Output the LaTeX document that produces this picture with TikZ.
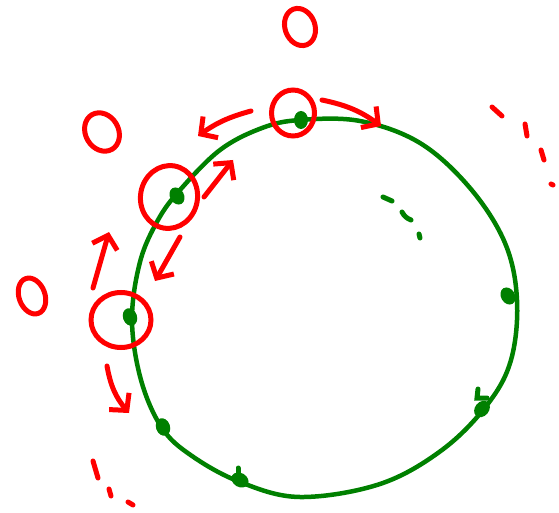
\documentclass[tikz,border=0pt]{standalone}
\usetikzlibrary{arrows.meta,shapes.geometric}
\definecolor{pen}{RGB}{0,128,0}
\definecolor{ink}{RGB}{255,0,0}
\tikzset{
  ring/.style={draw=pen,line width=4.5pt,line join=round},
  bead/.style={ellipse,fill=pen,inner sep=0pt,minimum width=14pt,minimum height=18pt},
  loop/.style={ellipse,draw=ink,line width=5pt,inner sep=0pt},
  tinyloop/.style={ellipse,draw=ink,line width=5pt,inner sep=0pt},
  move/.style={draw=ink,line width=5pt,line cap=round,-{Straight Barb[length=12pt,width=26pt,line width=5pt]}},
  gdash/.style={draw=pen,line width=5pt,line cap=round},
  rdash/.style={draw=ink,line width=5pt,line cap=round}
}
\begin{document}
\begin{tikzpicture}[x=1pt,y=-1pt]
\useasboundingbox (0,0) rectangle (559,513);
% green orbit
\draw[ring] plot[smooth cycle,tension=0.6] coordinates {
 (300,120) (360,121) (420,143) (470,188) (505,243) (517,300) (511,360)
 (487,405) (442,450) (380,484) (300,497) (240,482) (192,456) (162,428)
 (141,380) (132,320) (140,262) (158,220) (180,190) (220,150) (262,128)};
% beads
\node[bead] (b1) at (301,120) {};
\node[bead,rotate=30] (b2) at (177,196) {};
\node[bead,rotate=20] (b3) at (130,317) {};
\node[bead,rotate=20] (b4) at (163,427) {};
\node[bead,rotate=60] (b5) at (240,480) {};
\node[bead,rotate=-40] (b6) at (482,409) {};
\node[bead,rotate=30] (b7) at (508,296) {};
\draw[gdash] (478,389) -- (477,398) -- (487,398);
\draw[gdash] (238,468) -- (238,473);
% green dashes
\draw[gdash] (383,197) -- (392,201);
\draw[gdash] (402,212) to[bend right=20] (411,220);
\draw[gdash] (419,234) -- (420,238);
% red loops
\node[loop,minimum width=43pt,minimum height=46pt] (c1) at (293,113) {};
\node[loop,minimum width=57pt,minimum height=63pt,rotate=-10] (c2) at (169,197) {};
\node[loop,minimum width=60pt,minimum height=55pt] (c3) at (121,320) {};
\node[tinyloop,minimum width=30pt,minimum height=38pt,rotate=20] (s1) at (300,27) {};
\node[tinyloop,minimum width=33pt,minimum height=40pt,rotate=30] (s2) at (102,132) {};
\node[tinyloop,minimum width=26pt,minimum height=37pt,rotate=20] (s3) at (32,296) {};
% arrows
\coordinate (a1s) at (322,100); \coordinate (a1e) at (381,126);
\coordinate (a2s) at (251,111); \coordinate (a2e) at (198,136);
\coordinate (a3s) at (204,197); \coordinate (a3e) at (233,160);
\coordinate (a4s) at (180,237); \coordinate (a4e) at (155,281);
\coordinate (a5s) at (93,288);  \coordinate (a5e) at (109,232);
\coordinate (a6s) at (107,366); \coordinate (a6e) at (129,413);
\draw[move] (a1s) to[bend left=12] (a1e);
\draw[move] (a2s) to[bend right=10] (a2e);
\draw[move] (a3s) -- (a3e);
\draw[move] (a4s) -- (a4e);
\draw[move] (a5s) -- (a5e);
\draw[move] (a6s) to[bend right=15] (a6e);
% red dashes
\draw[rdash] (492,107) -- (502,116);
\draw[rdash] (525,124) -- (527,136);
\draw[rdash] (541,150) -- (544,160);
\draw[rdash] (551,184) -- (553,185);
\draw[rdash] (93,461) -- (98,478);
\draw[rdash] (109,489) -- (111,496);
\draw[rdash] (128,502) -- (133,505);
\end{tikzpicture}
\end{document}
